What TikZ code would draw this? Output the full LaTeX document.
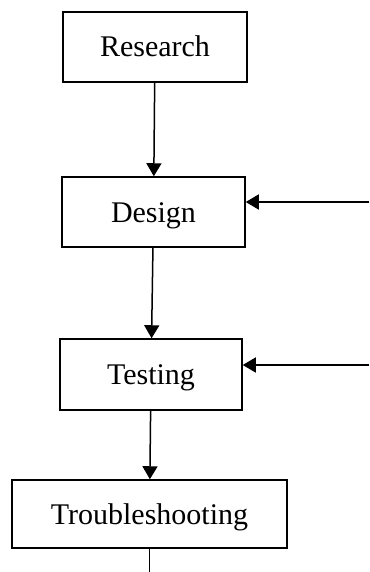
\documentclass[tikz,border=0pt]{standalone}
\usepackage{fontspec}
\setmainfont{Liberation Serif}
\usetikzlibrary{arrows.meta}

\tikzset{
  stage/.style={draw, line width=1.5pt, inner sep=0pt, align=center,
    text height=20pt, text depth=0pt, font=\fontsize{30}{36}\selectfont},
  flow/.style={line width=1.5pt, -{Triangle[length=13pt,width=15pt]}}
}

\begin{document}
\begin{tikzpicture}[x=1pt,y=-1pt]
      \useasboundingbox (0,0) rectangle (369,572);
      \node[stage, minimum width=184pt, minimum height=70pt] (research) at (155,47) {Research};
      \node[stage, minimum width=183pt, minimum height=70pt] (design) at (153.5,212) {Design};
      \node[stage, minimum width=182pt, minimum height=71pt] (testing) at (151,374.5) {Testing};
      \node[stage, minimum width=275pt, minimum height=68pt] (trouble) at (149.5,514) {Troubleshooting};
      \coordinate (fbdesign) at (369,202);
      \coordinate (fbtesting) at (369,365);
      \coordinate (out) at (149.5,572);
      \draw[flow] (research) -- (design);
      \draw[flow] (design) -- (testing);
      \draw[flow] (testing) -- (trouble);
      \draw[flow] (fbdesign) -- (design.east |- fbdesign);
      \draw[flow] (fbtesting) -- (testing.east |- fbtesting);
      \draw[line width=1.5pt] (trouble.south) -- (out);
    \end{tikzpicture}
\end{document}
